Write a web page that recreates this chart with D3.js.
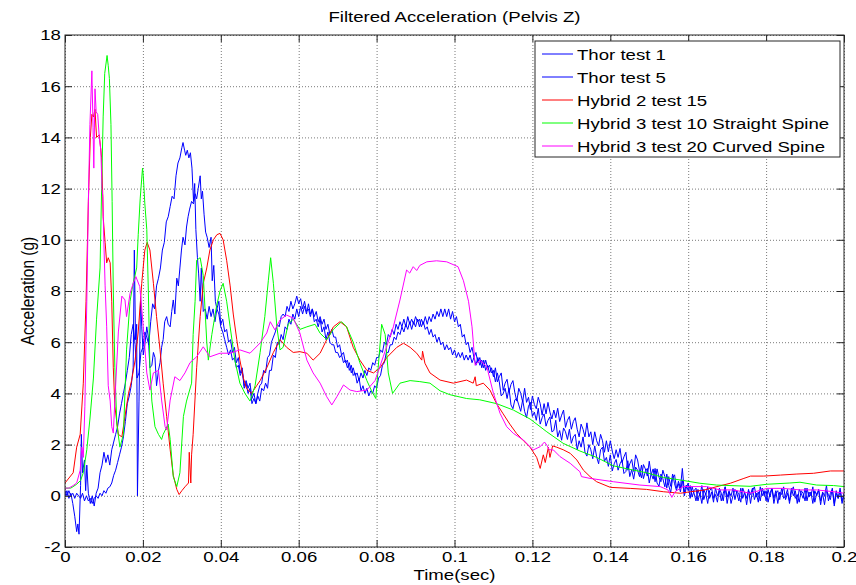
<!DOCTYPE html>
<meta charset="utf-8">
<script src="https://d3js.org/d3.v7.min.js"></script>
<style>
  body { margin: 0; background: #fff; }
  text { font-family: "Liberation Sans", Arial, sans-serif; fill: #000; }
</style>
<body>
<div id="chart"></div>
<script>
// [time (ms), acceleration (g)]
var thor1 = [[0,0.0],[0.5,0.2],[1,-0.1],[1.5,0.1],[2,-0.3],[2.5,-0.8],[3,-1.4],[3.3,-1.1],[3.6,-1.5],[4,0.4],[4.2,2.4],[4.5,0.9],[5,1.4],[5.3,0.2],[5.6,1.2],[6,0.1],[6.5,-0.3],[7,0.0],[7.5,-0.4],[8,0.1],[8.5,0.3],[9,0.9],[9.5,1.2],[10,1.7],[10.5,1.3],[11,1.6],[11.5,1.2],[12,1.8],[12.5,2.1],[13,2.4],[13.5,2.7],[14,3.2],[14.5,3.6],[15,4.0],[15.5,4.4],[16,4.9],[16.5,5.4],[17,6.3],[17.5,6.7],[18,5.9],[18.5,4.6],[19,4.8],[19.5,5.6],[20,5.8],[20.5,6.4],[21,6.2],[21.5,5.9],[22,6.8],[22.5,7.5],[23,7.3],[23.5,8.2],[24,8.5],[24.5,8.9],[25,9.6],[25.5,9.9],[26,10.7],[26.5,10.9],[27,11.3],[27.5,11.7],[28,11.6],[28.5,12.5],[29,13.0],[29.5,13.2],[30,13.6],[30.3,13.8],[30.7,13.5],[31,13.3],[31.4,13.5],[31.8,13.2],[32.2,13.4],[32.6,12.8],[33,11.5],[33.3,12.2],[33.6,10.4],[34,9.3],[34.3,8.7],[34.7,7.6],[35,8.9],[35.5,7.2],[36,7.3],[36.5,6.9],[37,7.4],[37.5,7.0],[38,7.3],[38.5,6.8],[39,7.3],[39.5,7.1],[40,6.6],
  [40.5,6.4],[41,6.1],[41.5,5.8],[42,5.5],[42.5,5.7],[43,5.3],[43.5,5.4],[44,5.0],[44.5,5.1],[45,4.7],[45.5,4.9],[46,4.3],[46.5,4.5],[47,4.2],[47.5,4.4],[48,3.8],[48.5,4.0],[49,3.6],[49.5,4.0],[50,4.3],[50.5,4.4],[51,4.9],[51.5,4.8],[52,5.4],[52.5,5.5],[53,6.0],[53.5,6.2],[54,6.4],[54.5,6.7],[55,6.6],[55.5,7.0],[56,7.1],[56.5,7.0],[57,7.4],[57.5,7.2],[58,7.6],[58.5,7.3],[59,7.5],[59.5,7.8],[60,7.5],
  [60.5,7.7],[61,7.3],[61.5,7.6],[62,7.2],[62.5,7.3],[63,7.0],[63.5,7.3],[64,6.8],[64.5,6.9],[65,6.6],[65.5,6.9],[66,6.4],[66.5,6.6],[67,6.1],[67.5,6.4],[68,6.0],[68.5,5.9],[69,5.9],[69.5,5.6],[70,5.6],[70.5,5.4],[71,5.5],[71.5,5.2],[72,5.3],[72.5,5.0],[73,5.2],[73.5,4.8],[74,5.0],[74.5,4.7],[75,4.8],[75.5,4.5],[76,4.8],[76.5,4.6],[77,4.9],[77.5,4.7],[78,5.0],[78.5,4.9],[79,5.2],[79.5,5.1],[80,5.4],
  [80.5,5.4],[81,5.7],[81.5,5.6],[82,6.0],[82.5,5.9],[83,6.3],[83.5,6.2],[84,6.5],[84.5,6.3],[85,6.7],[85.5,6.5],[86,6.8],[86.5,6.6],[87,6.9],[87.5,6.6],[88,7.0],[88.5,6.7],[89,6.9],[89.5,6.7],[90,7.0],[90.5,6.8],[91,6.9],[91.5,6.6],[92,6.8],[92.5,6.5],[93,6.6],[93.5,6.3],[94,6.5],[94.5,6.2],[95,6.3],[95.5,6.0],[96,6.2],[96.5,5.9],[97,6.0],[97.5,5.7],[98,5.9],[98.5,5.7],[99,5.8],[99.5,5.5],[100,5.7],
  [100.5,5.4],[101,5.6],[101.5,5.4],[102,5.6],[102.5,5.3],[103,5.5],[103.5,5.3],[104,5.5],[104.5,5.2],[105,5.4],[105.5,5.1],[106,5.4],[106.5,5.1],[107,5.3],[107.5,5.0],[108,5.3],[108.5,5.0],[109,5.1],[109.5,4.8],
  [110,4.9],[110.5,4.45],[111,4.8],[111.5,4.45],[112,3.9],[112.5,4.0],[113,4.2],[113.5,3.8],[114,4.2],[114.5,3.55],[115,3.4],[115.5,3.75],[116,3.8],[116.5,3.55],[117,3.3],[117.5,3.75],[118,3.3],[118.5,3.05],[119,3.5],[119.5,3.65],
  [120,3.1],[120.5,3.27],[121,2.95],[121.5,3.42],[122,2.8],[122.5,3.05],[123,3.2],[123.5,2.72],[124,2.95],[124.5,3.08],[125,2.5],[125.5,2.55],[126,2.95],[126.5,2.3],[127,2.55],[127.5,2.17],[128,2.65],[128.5,2.5],[129,2.2],[129.5,2.6],
  [130,2.05],[130.5,2.3],[131,2.4],[131.5,1.8],[132,2.15],[132.5,1.9],[133,2.3],[133.5,1.7],[134,1.55],[134.5,2.0],[135,1.8],[135.5,1.45],[136,1.95],[136.5,1.52],[137,1.25],[137.5,1.8],[138,1.9],[138.5,1.35],[139,1.5],[139.5,1.15],
  [140,1.6],[140.5,0.97],[141,1.25],[141.5,1.42],[142,1.0],[142.5,1.25],[143,1.4],[143.5,0.87],[144,0.95],[144.5,1.37],[145,0.75],[145.5,1.02],[146,0.65],[146.5,1.12],[147,1.0],[147.5,0.75],[148,1.2],[148.5,0.67],[149,0.95],[149.5,1.07],
  [150,0.5],[150.5,0.87],[151,0.65],[151.5,1.07],[152,0.5],[152.5,0.37],[153,0.85],[153.5,0.67],[154,0.35],[154.5,0.85],[155,0.4],[155.5,0.12],[156,0.7],[156.5,0.82],[157,0.3],[157.5,0.47],[158,0.15],[158.5,0.62],[159,0.0],[159.5,0.3],
  [160,0.5],[160.5,-0.1],[161,0.35],[161.5,0.1],[162,-0.2],[162.5,0.25],[163,0.0],[163.5,0.4],[164,-0.15],[164.5,0.1],[165,-0.3],[165.5,0.2],[166,0.3],[166.5,-0.1],[167,0.05],[167.5,-0.25],[168,0.3],[168.5,0.1],[169,-0.2],[169.5,0.35],
  [170,-0.05],[170.5,0.2],[171,-0.3],[171.5,0.0],[172,0.25],[172.5,0.1],[173,-0.2],[173.5,0.3],[174,-0.1],[174.5,0.15],[175,-0.35],[175.5,0.2],[176,0.05],[176.5,0.3],[177,-0.15],[177.5,0.1],[178,-0.25],[178.5,0.35],[179,0.0],[179.5,0.2],
  [180,-0.2],[180.5,0.25],[181,-0.05],[181.5,0.3],[182,-0.3],[182.5,0.1],[183,0.2],[183.5,-0.15],[184,0.3],[184.5,-0.1],[185,0.0],[185.5,0.25],[186,-0.3],[186.5,0.15],[187,0.35],[187.5,-0.1],[188,0.05],[188.5,-0.25],[189,0.2],[189.5,0.1],
  [190,-0.2],[190.5,0.3],[191,-0.05],[191.5,0.15],[192,-0.3],[192.5,0.2],[193,0.0],[193.5,0.25],[194,-0.2],[194.5,0.1],[195,-0.35],[195.5,0.2],[196,0.05],[196.5,-0.15],[197,0.3],[197.5,-0.4],[198,0.1],[198.5,-0.1],[199,0.2],[199.5,-0.3],[200,0.0]];

var thor5 = [[0,0.2],[0.5,0.0],[1,0.2],[1.5,0.0],[2,0.1],[2.5,-0.1],[3,0.1],[3.5,0.0],[4,-0.1],[4.5,0.1],[5,-0.2],[5.5,0.0],[6,-0.2],[6.5,-0.1],[7,-0.3],[7.5,-0.1],[8,0.0],[8.5,-0.1],[9,0.1],[9.5,0.0],[10,0.2],[10.5,0.1],[11,0.3],[11.5,0.35],[12,0.5],[12.5,0.8],[13,1.0],[13.5,1.3],[14,1.6],[14.5,1.9],[15,2.3],[15.5,2.9],[16,3.6],[16.5,3.9],[17,4.3],[17.5,5.0],[17.8,9.6],[18.1,6.1],[18.4,6.7],[18.6,0.0],[19,3.7],[19.4,7.8],[19.7,6.6],[20.1,5.5],[20.5,5.9],[21,6.6],[21.4,6.2],[21.8,5.0],[22.3,5.1],[22.7,5.6],[23.1,5.4],[23.5,4.3],[24,4.9],[24.4,5.2],[24.8,5.8],[25.2,6.1],[25.6,6.8],[26.1,7.0],[26.5,6.7],[27,6.6],[27.4,7.2],[27.8,7.65],[28.2,7.1],[28.7,8.5],[29.1,8.2],[29.5,8.9],[29.9,9.6],[30.3,10.1],[30.8,9.8],[31.2,10.5],[31.6,10.9],[32,11.2],[32.5,11.5],[33,11.4],[33.4,11.8],[33.8,11.6],[34.2,12.0],[34.7,12.5],[35,11.6],[35.3,11.9],[35.7,11.0],[36.1,10.3],[36.5,10.1],[37,9.7],[37.5,10.1],[37.8,8.4],[38.2,9.0],[38.6,7.6],[39,7.3],[39.5,7.6],
  [40,6.7],[40.5,6.9],[41,6.4],[41.5,6.5],[42,6.0],[42.5,6.1],[43,5.6],[43.5,5.8],[44,5.2],[44.5,5.4],[45,4.8],[45.5,5.0],[46,4.2],[46.5,4.4],[47,4.0],[47.5,4.2],[48,3.6],[48.5,3.8],[49,3.6],[49.5,3.9],[50,3.7],[50.5,4.2],[51,4.1],[51.5,4.4],[52,4.2],[52.5,4.9],[53,4.9],[53.5,5.5],[54,5.4],[54.5,6.0],[55,5.9],[55.5,6.3],[56,6.1],[56.5,6.6],[57,6.5],[57.5,6.9],[58,6.7],[58.5,7.1],[59,6.9],[59.5,7.3],
  [60,7.0],[60.5,7.4],[61,7.1],[61.5,7.4],[62,7.1],[62.5,7.5],[63,7.1],[63.5,7.3],[64,7.0],[64.5,7.2],[65,6.8],[65.5,7.0],[66,6.7],[66.5,6.9],[67,6.5],[67.5,6.7],[68,6.3],[68.5,6.5],[69,6.2],[69.5,6.2],[70,5.8],[70.5,5.9],[71,5.5],[71.5,5.6],[72,5.2],[72.5,5.3],[73,4.9],[73.5,5.1],[74,4.7],[74.5,4.8],[75,4.4],[75.5,4.6],[76,4.1],[76.5,4.3],[77,4.0],[77.5,4.2],[78,3.9],[78.5,4.1],[79,4.0],[79.5,4.3],
  [80,4.2],[80.5,4.6],[81,4.7],[81.5,5.1],[82,5.2],[82.5,5.6],[83,5.6],[83.5,5.9],[84,5.9],[84.5,6.2],[85,6.1],[85.5,6.4],[86,6.3],[86.5,6.6],[87,6.4],[87.5,6.7],[88,6.5],[88.5,6.8],[89,6.5],[89.5,6.8],[90,6.6],[90.5,6.9],[91,6.6],[91.5,6.9],[92,6.7],[92.5,7.0],[93,6.7],[93.5,7.0],[94,6.8],[94.5,7.1],[95,6.9],[95.5,7.2],[96,7.0],[96.5,7.3],[97,7.0],[97.5,7.3],[98,7.0],[98.5,7.3],[99,6.9],[99.5,7.2],
  [100,6.8],[100.5,7.0],[101,6.6],[101.5,6.7],[102,6.2],[102.5,6.3],[103,5.9],[103.5,6.0],[104,5.6],[104.5,5.8],[105,5.4],[105.5,5.6],[106,5.2],[106.5,5.4],[107,5.0],[107.5,5.3],[108,4.9],[108.5,5.1],[109,4.8],[109.5,5.0],
  [110,4.65],[110.5,5.0],[111,4.45],[111.5,4.65],[112,4.8],[112.5,4.12],[113,4.4],[113.5,4.55],[114,4.05],[114.5,4.35],[115,4.5],[115.5,4.02],[116,3.7],[116.5,4.2],[117,4.0],[117.5,3.67],[118,4.2],[118.5,3.65],[119,3.85],[119.5,3.37],
  [120,3.9],[120.5,3.57],[121,3.4],[121.5,3.85],[122,3.6],[122.5,3.15],[123,3.6],[123.5,3.2],[124,3.65],[124.5,3.27],[125,3.0],[125.5,3.35],[126,3.05],[126.5,3.42],[127,2.9],[127.5,3.15],[128,3.35],[128.5,2.67],[129,2.95],[129.5,3.1],
  [130,2.6],[130.5,2.9],[131,3.05],[131.5,2.6],[132,2.3],[132.5,2.8],[133,2.6],[133.5,2.3],[134,2.85],[134.5,2.3],[135,2.5],[135.5,2.0],[136,2.5],[136.5,2.15],[137,1.95],[137.5,2.4],[138,2.15],[138.5,1.7],[139,2.15],[139.5,1.72],
  [140,2.15],[140.5,1.75],[141,1.45],[141.5,1.8],[142,1.5],[142.5,1.85],[143,1.3],[143.5,1.52],[144,1.7],[144.5,1.0],[145,1.25],[145.5,1.42],[146,0.95],[146.5,1.6],[147,1.4],[147.5,0.97],[148,0.7],[148.5,1.22],[149,1.05],[149.5,0.77],
  [150,1.35],[150.5,0.82],[151,1.05],[151.5,0.55],[152,1.05],[152.5,0.72],[153,0.55],[153.5,1.0],[154,0.75],[154.5,0.3],[155,0.75],[155.5,0.37],[156,0.85],[156.5,0.47],[157,0.2],[157.5,0.57],[158,0.3],[158.5,1.07],[159,0.15],[159.5,0.42],
  [160,0.2],[160.5,0.4],[161,-0.05],[161.5,0.2],[162,0.3],[162.5,-0.2],[163,0.1],[163.5,-0.3],[164,0.25],[164.5,0.05],[165,0.35],[165.5,-0.1],[166,0.15],[166.5,-0.25],[167,0.3],[167.5,0.0],[168,0.2],[168.5,-0.2],[169,0.1],[169.5,0.35],
  [170,-0.3],[170.5,0.15],[171,0.0],[171.5,0.3],[172,-0.15],[172.5,0.2],[173,0.05],[173.5,-0.25],[174,0.3],[174.5,0.1],[175,-0.1],[175.5,0.25],[176,-0.3],[176.5,0.2],[177,0.35],[177.5,-0.05],[178,0.15],[178.5,-0.2],[179,0.3],[179.5,0.0],
  [180,0.2],[180.5,-0.25],[181,0.1],[181.5,0.3],[182,-0.1],[182.5,0.2],[183,-0.3],[183.5,0.15],[184,0.05],[184.5,0.35],[185,-0.15],[185.5,0.1],[186,-0.2],[186.5,0.3],[187,0.0],[187.5,0.2],[188,-0.3],[188.5,0.25],[189,0.1],[189.5,-0.1],
  [190,0.3],[190.5,-0.2],[191,0.15],[191.5,0.0],[192,0.35],[192.5,-0.25],[193,0.1],[193.5,0.2],[194,-0.35],[194.5,0.15],[195,0.0],[195.5,0.4],[196,-0.2],[196.5,0.1],[197,0.25],[197.5,-0.3],[198,0.2],[198.5,-0.1],[199,0.3],[199.5,-0.2],[200,0.1]];

var hybrid2 = [[0,0.5],[2.1,0.9],[3.0,1.9],[3.9,2.4],[4.7,4.4],[5.4,7.6],[6.0,11.5],[6.5,14.0],[6.9,14.9],[7.3,14.8],[7.7,15.1],[8.1,14.0],[8.8,14.1],[9.4,13.2],[9.7,11.7],[9.8,10.9],[10.3,9.9],[10.7,9.1],[11.1,9.3],[11.6,9.1],[12.0,7.6],[12.4,5.0],[12.8,3.5],[13.7,2.4],[14.6,2.3],[15.4,3.1],[16.3,4.0],[17.1,4.5],[18.0,5.3],[18.8,6.4],[19.7,8.3],[20.5,9.6],[21.1,9.9],[21.8,9.6],[22.7,8.3],[23.5,7.0],[24.4,5.7],[25.2,4.4],[26.1,3.1],[27.0,1.8],[27.8,0.8],[28.7,0.25],[29.3,0.05],[30.0,0.2],[30.8,0.35],[31.7,0.5],[31.9,1.7],[32.3,0.5],[32.5,1.6],[32.9,2.4],[33.8,5.0],[34.7,7.0],[35.5,8.3],[36.4,8.9],[37.2,9.6],[38.1,10.0],[39.0,10.2],[39.8,10.25],[40.6,10.0],[41.5,9.2],[42.4,8.2],[43.2,7.1],[44.1,6.1],[44.9,5.3],[45.8,4.6],[46.6,4.2],[47.9,4.0],[49.2,4.3],[50.1,4.5],[51.8,5.0],[53.5,5.6],[55.2,6.1],[56.9,5.8],[58.6,5.6],[60.3,5.63],[62.1,5.57],[63.7,5.3],[65.5,5.57],[67.2,6.1],[68.9,6.6],[70.6,6.8],[72.3,6.6],[74.0,5.8],[75.7,5.3],[77.5,4.9],[79.2,4.8],[80.9,5.0],[82.6,5.4],[85.2,5.8],[86.9,5.96],[88.6,5.8],[90.3,5.57],[91.6,5.3],[91.8,5.65],[92.4,5.18],[93.7,4.8],[96.3,4.52],[99.7,4.4],[103.1,4.52],[104.8,4.4],[105.3,4.65],[105.6,4.3],[107.4,4.4],[109.1,4.13],[110.8,3.6],[112.5,3.2],[114.2,2.8],[115.9,2.44],[117.7,2.15],[119.4,1.9],[121.1,1.5],[122.0,1.07],[122.8,1.6],[123.3,1.3],[124.1,1.9],[124.5,1.5],[125.2,1.95],[126.2,1.9],[127.9,1.8],[129.7,1.66],[131.4,1.4],[133.1,1.0],[134.8,0.75],[136.5,0.55],[140.0,0.33],[145.1,0.29],[149.3,0.25],[153.6,0.16],[158.0,0.1],[160.6,0.16],[164.0,0.22],[167.4,0.36],[170.8,0.49],[174.3,0.68],[176.0,0.77],[179.4,0.77],[183.7,0.81],[187.9,0.85],[192.2,0.88],[196.5,0.97],[200,0.97]];

var hybrid3Straight = [[0,0.3],[1.5,0.3],[3.0,0.45],[4.0,0.6],[4.7,0.9],[5.6,1.8],[6.4,3.0],[7.3,4.6],[8.1,6.9],[9.0,8.9],[9.4,12.0],[9.8,14.8],[10.2,16.5],[10.8,17.2],[11.1,16.8],[11.4,16.3],[11.8,14.5],[12.1,11.5],[12.4,8.0],[12.8,5.0],[13.3,2.8],[14.1,1.9],[15.0,2.4],[15.8,5.7],[16.7,7.6],[17.5,8.3],[18.4,8.9],[18.8,10.2],[19.3,11.6],[19.9,12.8],[20.1,12.5],[20.5,11.4],[21.0,10.4],[21.4,8.0],[21.8,5.0],[22.3,3.7],[23.1,2.7],[24.0,2.4],[24.8,2.2],[25.2,2.4],[26.5,2.8],[27.0,2.2],[27.8,0.75],[28.7,0.36],[29.5,0.9],[30.4,3.1],[31.2,3.7],[32.5,4.4],[32.9,6.3],[33.4,7.6],[33.8,9.2],[34.7,9.3],[35.5,8.6],[36.4,6.0],[36.8,5.3],[37.7,6.3],[38.9,7.4],[39.8,8.0],[40.6,8.3],[41.5,7.6],[42.4,6.6],[43.6,5.3],[44.9,4.4],[46.2,4.0],[47.5,3.7],[48.8,4.3],[50.1,5.6],[51.3,7.0],[52.2,8.4],[52.8,9.3],[53.5,8.3],[54.4,6.6],[55.2,5.7],[56.0,5.8],[57.3,6.7],[58.6,6.9],[60.3,6.5],[62.1,6.6],[64.2,6.7],[65.5,6.35],[67.2,6.1],[68.9,6.5],[71.0,6.8],[72.3,6.6],[74.0,6.0],[75.7,5.2],[77.5,4.5],[78.7,4.1],[79.8,3.8],[80.4,5.0],[81.3,6.7],[82.2,6.3],[83.0,4.8],[84.1,4.0],[86.0,4.4],[88.6,4.5],[91.1,4.46],[93.7,4.4],[96.3,4.1],[98.8,3.95],[103.1,3.8],[106.5,3.75],[110.8,3.6],[115.1,3.35],[119.4,3.0],[123.7,2.5],[127.9,2.05],[132.2,1.75],[136.5,1.5],[140.8,1.17],[145.1,1.03],[149.3,0.9],[153.6,0.72],[158.7,0.6],[163.0,0.49],[167.3,0.42],[175.9,0.37],[180.2,0.45],[186.1,0.5],[188.7,0.53],[193.0,0.42],[197.3,0.4],[200,0.36]];

var hybrid3Curved = [[0,0.3],[1.0,0.3],[2.1,0.4],[3.0,0.5],[3.9,1.0],[4.3,1.9],[4.7,1.5],[5.1,3.5],[5.6,7.6],[6.0,11.5],[6.4,14.5],[6.9,16.6],[7.2,14.4],[7.4,12.8],[7.7,15.9],[8.0,15.0],[8.4,14.9],[8.8,14.0],[9.2,13.5],[9.5,12.0],[9.7,11.7],[10.0,9.8],[10.3,8.2],[10.7,6.6],[11.1,4.3],[11.6,3.7],[12.0,2.7],[12.4,2.45],[12.8,3.7],[13.7,6.4],[14.6,7.8],[15.4,7.65],[15.8,7.0],[16.7,7.9],[17.5,8.3],[18.2,8.56],[19.2,8.17],[20.1,6.6],[21.0,4.8],[21.8,4.13],[22.7,4.8],[24.0,4.9],[24.8,3.74],[25.7,2.7],[26.1,2.57],[27.0,3.74],[28.2,4.65],[29.5,4.5],[30.8,4.8],[32.1,5.2],[33.8,5.43],[35.5,5.82],[37.2,5.43],[39.8,5.57],[42.4,5.57],[44.9,5.7],[47.5,5.57],[50.1,5.97],[51.8,6.36],[52.7,6.8],[53.9,6.48],[55.2,6.87],[56.9,7.06],[58.6,6.94],[60.3,6.36],[62.1,5.3],[63.7,4.8],[65.5,4.4],[67.2,3.87],[68.5,3.55],[69.8,3.87],[71.5,4.33],[73.2,4.13],[74.9,4.07],[77.5,4.13],[79.6,4.5],[81.7,5.43],[84.3,6.6],[86.0,7.65],[87.7,8.82],[88.5,8.7],[89.4,8.95],[90.3,8.8],[91.1,9.0],[92.9,9.14],[95.4,9.18],[98.0,9.14],[100.9,8.95],[102.3,8.4],[103.6,7.6],[104.5,6.6],[105.3,5.1],[106.5,5.3],[108.3,5.04],[110.0,4.0],[111.7,3.22],[113.4,2.7],[115.1,2.44],[117.7,2.18],[120.2,1.79],[122.0,1.92],[123.1,2.1],[123.7,1.98],[124.3,1.8],[125.4,1.79],[127.1,1.53],[129.7,1.27],[132.2,0.94],[132.6,0.75],[134.8,0.68],[140.8,0.55],[147.6,0.42],[152.8,0.36],[154.8,0.23],[155.8,-0.06],[156.6,0.16],[158.7,0.36],[164.7,0.36],[168.2,0.23],[171.5,0.23],[175.9,0.1],[180.2,0.29],[184.3,0.29],[188.7,0.23],[193.0,0.23],[197.3,0.16],[200,0.1]];

var seriesNames = ["Thor test 1", "Thor test 5", "Hybrid 2 test 15", "Hybrid 3 test 10 Straight Spine", "Hybrid 3 test 20 Curved Spine"];
var xTicks = [0, 0.02, 0.04, 0.06, 0.08, 0.1, 0.12, 0.14, 0.16, 0.18, 0.2];
var xTickLabels = ["0", "0.02", "0.04", "0.06", "0.08", "0.1", "0.12", "0.14", "0.16", "0.18", "0.2"];
var yTicks = [-2, 0, 2, 4, 6, 8, 10, 12, 14, 16, 18];
var yTickLabels = ["-2", "0", "2", "4", "6", "8", "10", "12", "14", "16", "18"];

var allSeries = [thor1, thor5, hybrid2, hybrid3Straight, hybrid3Curved];
var colors = ["#0000ff", "#0000ff", "#ff0000", "#00ff00", "#ff00ff"];

var margin = {top: 35, right: 12, bottom: 38, left: 65},
    width = 856 - margin.left - margin.right,
    height = 585 - margin.top - margin.bottom;
var fontSize = 15.5;
var stretch = 1.2; // the picture is wider than tall: glyphs are stretched sideways

var svg = d3.select("#chart")
  .append("svg")
    .attr("width", width + margin.left + margin.right)
    .attr("height", height + margin.top + margin.bottom)
  .append("g")
    .attr("transform", "translate(" + margin.left + "," + margin.top + ")");

var x = d3.scaleLinear().domain([0, 0.2]).range([0, width]);
var y = d3.scaleLinear().domain([-2, 18]).range([height, 0]);

// dotted grid
svg.append("g")
  .attr("class", "grid")
  .attr("transform", "translate(0," + height + ")")
  .call(d3.axisBottom(x).tickValues(xTicks).tickSize(-height).tickFormat(""));
svg.append("g")
  .attr("class", "grid")
  .call(d3.axisLeft(y).tickValues(yTicks).tickSize(-width).tickFormat(""));
svg.selectAll(".grid .domain").remove();
svg.selectAll(".grid line")
  .attr("stroke", "#7a7a7a")
  .attr("stroke-dasharray", "1,2");

// curves
svg.append("clipPath").attr("id", "plotClip")
  .append("rect").attr("width", width).attr("height", height);

var line = d3.line()
  .x(function(d) { return x(d[0] / 1000); })
  .y(function(d) { return y(d[1]); });

svg.append("g")
  .attr("clip-path", "url(#plotClip)")
  .selectAll("path")
  .data(allSeries)
  .enter()
  .append("path")
    .attr("d", line)
    .attr("fill", "none")
    .attr("stroke", function(d, i) { return colors[i]; })
    .attr("stroke-width", 1);

// axes, ticks pointing inwards on all four sides
svg.append("g")
  .attr("transform", "translate(0," + height + ")")
  .call(d3.axisBottom(x).tickValues(xTicks)
    .tickFormat(function(d, i) { return xTickLabels[i]; })
    .tickSize(-7).tickSizeOuter(0).tickPadding(4));
svg.append("g")
  .call(d3.axisLeft(y).tickValues(yTicks)
    .tickFormat(function(d, i) { return yTickLabels[i]; })
    .tickSize(-7).tickSizeOuter(0).tickPadding(3.5));
svg.append("g")
  .call(d3.axisTop(x).tickValues(xTicks).tickFormat("").tickSize(-7).tickSizeOuter(0));
svg.append("g")
  .attr("transform", "translate(" + width + ",0)")
  .call(d3.axisRight(y).tickValues(yTicks).tickFormat("").tickSize(-7).tickSizeOuter(0));

svg.selectAll(".domain").remove();
svg.selectAll(".tick line").filter(function() { return !this.closest(".grid"); })
  .attr("stroke", "#262626");
svg.selectAll(".tick text")
  .attr("font-size", fontSize)
  .attr("font-family", "Liberation Sans, Arial, sans-serif")
  .attr("fill", "#000")
  .attr("transform", "scale(" + stretch + ",1)");

svg.append("rect")
  .attr("width", width).attr("height", height)
  .attr("fill", "none").attr("stroke", "#262626").attr("stroke-width", 1);

// title and labels
svg.append("text")
  .attr("transform", "translate(" + (width / 2) + ",-13) scale(" + stretch + ",1)")
  .attr("text-anchor", "middle")
  .attr("font-size", fontSize)
  .text("Filtered Acceleration (Pelvis Z)");
svg.append("text")
  .attr("transform", "translate(" + (width / 2) + "," + (height + 33) + ") scale(" + stretch + ",1)")
  .attr("text-anchor", "middle")
  .attr("font-size", fontSize)
  .text("Time(sec)");
svg.append("text")
  .attr("transform", "translate(-31," + (height / 2) + ") rotate(-90) scale(1," + stretch + ")")
  .attr("text-anchor", "middle")
  .attr("font-size", fontSize)
  .text("Acceleration (g)");

// legend
var legend = svg.append("g").attr("transform", "translate(470,6)");
legend.append("rect")
  .attr("width", 305).attr("height", 116)
  .attr("fill", "#fff").attr("stroke", "#262626").attr("stroke-width", 1);
var item = legend.selectAll(".item")
  .data(seriesNames)
  .enter()
  .append("g")
    .attr("class", "item")
    .attr("transform", function(d, i) { return "translate(0," + (13 + i * 23) + ")"; });
item.append("line")
  .attr("x1", 7).attr("x2", 38)
  .attr("stroke", function(d, i) { return colors[i]; })
  .attr("stroke-width", 1);
item.append("text")
  .attr("transform", "translate(42,5.5) scale(" + stretch + ",1)")
  .attr("font-size", fontSize)
  .text(function(d) { return d; });
</script>
</body>
